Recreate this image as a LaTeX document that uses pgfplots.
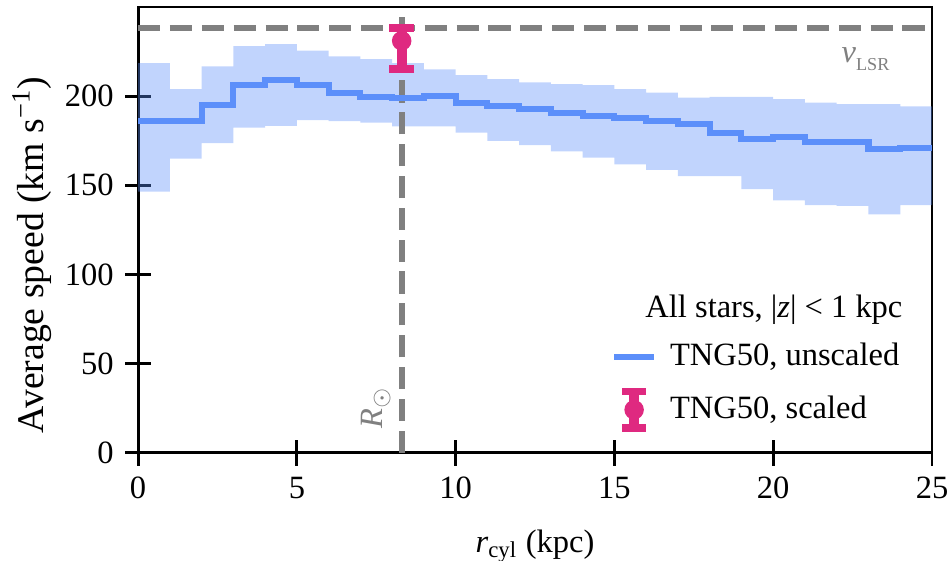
\documentclass[border=0pt]{standalone}
\usepackage{fontspec}
\setmainfont{Liberation Serif}
\usepackage{pgfplots}
\pgfplotsset{compat=1.18}
\usepgfplotslibrary{fillbetween}
\usepackage{pgfplotstable}
\definecolor{tngblue}{RGB}{92,143,250}
\definecolor{tngpink}{RGB}{223,41,128}
\definecolor{refgrey}{RGB}{128,128,128}
\pgfplotstableread{
x mid lo hi
0 186 146.5 218.5
1 186 165 204
2 195 173.6 216.7
3 206.2 182.4 228
4 209 183.3 229.2
5 206.4 186.5 225.5
6 202 186 222.3
7 199.4 185.2 220.8
8 198.7 183 218.5
9 200.2 183 215
10 196.4 179.6 211.8
11 194.6 174.9 209.6
12 192.7 172.5 207.7
13 190.8 169 206.7
14 189 165.5 206.2
15 188 161.8 204
16 186 158.6 202
17 184.3 155.2 199.2
18 179.6 155.2 199.6
19 176.2 147.8 199.6
20 177.1 141.6 198.3
21 174.5 138.9 196.4
22 174.5 138.4 195.5
23 170.2 133.7 195.5
24 171.1 138.9 194.2
25 171.1 138.9 194.2
}\speed
\begin{document}
\begin{tikzpicture}
\begin{axis}[
  name=ax,
  scale only axis,
  width=244.3pt, height=137.2pt,
  xmin=0, xmax=25, ymin=0, ymax=250,
  xtick={0,5,10,15,20,25},
  ytick={0,50,100,150,200},
  axis line style={line width=0.9pt},
  every tick/.style={line width=0.9pt, black},
  tick align=center,
  major tick length=8pt,
  xtick pos=bottom, ytick pos=left,
  /pgf/number format/assume math mode=true,
  tick label style={font=\fontsize{10}{12}\selectfont},
  every axis x label/.style={at={(rel axis cs:0.5,0)}, yshift=-30.8pt, anchor=base},
  every axis y label/.style={at={(rel axis cs:0,0.444)}, xshift=-32.6pt, rotate=90, anchor=center, font=\fontsize{11.6}{14}\selectfont},
  xlabel={\textit{r}\textsubscript{cyl} (kpc)},
  ylabel={Average speed (km s\textsuperscript{−1})},
  legend style={draw=none, fill=none, at={(rel axis cs:0.595,0.255)}, anchor=north west,
    inner sep=0pt, row sep=4pt, column sep=3pt, nodes={inner sep=1pt}, font=\fontsize{10}{12}\selectfont},
  legend cell align=left,
  clip=false,
]
\addplot[refgrey, line width=1.85pt, dash pattern=on 6.8pt off 3pt, forget plot] coordinates {(0,238) (25,238)};
\addplot[refgrey, line width=1.85pt, dash pattern=on 6.8pt off 3pt, forget plot] coordinates {(8.3,0) (8.3,250)};
\addplot[const plot, draw=none, name path=up, forget plot] table[x=x, y=hi] {\speed};
\addplot[const plot, draw=none, name path=lo, forget plot] table[x=x, y=lo] {\speed};
\addplot[fill=tngblue, fill opacity=0.38, draw=none, forget plot] fill between[of=up and lo];
\addplot[const plot, color=tngblue, line width=1.85pt,
  legend image code/.code={\draw[tngblue, line width=1.85pt] (0pt,0pt) -- (12.3pt,0pt);}]
  table[x=x, y=mid] {\speed};
\addlegendentry{TNG50, unscaled}
\addplot[only marks, mark=*, mark size=2.8pt, color=tngpink,
  legend image code/.code={
    \path[draw=none, fill=none] (0pt,-1pt) rectangle (12.3pt,1pt);
    \draw[tngpink, line width=3pt] (6.15pt,-5.6pt) -- (6.15pt,5.6pt);
    \draw[tngpink, line width=2.3pt] (2.45pt,-5.6pt) -- (9.85pt,-5.6pt);
    \draw[tngpink, line width=2.3pt] (2.45pt,5.6pt) -- (9.85pt,5.6pt);
    \fill[tngpink] (6.15pt,0pt) circle (2.8pt);},
  error bars/.cd, y dir=both, y explicit,
  error bar style={line width=3pt, tngpink},
  error mark options={rotate=90, mark size=3.85pt, line width=2.4pt, tngpink},
  ] coordinates {(8.3,231) += (0,7) -= (0,16)};
\addlegendentry{TNG50, scaled}
\node[refgrey, anchor=base east, inner sep=0pt] at (axis cs:23.68,218.6) {\fontsize{10}{12}\selectfont\textit{v}\raisebox{-0.5ex}{\fontsize{5.6}{7}\selectfont LSR}};
\node[refgrey, rotate=90, anchor=base west, font=\fontsize{10}{12}\selectfont] at (axis cs:7.71,7.3) {\textit{R}$_{\odot}$};
\node[anchor=east, font=\fontsize{10}{12}\selectfont, inner sep=0pt] at (axis cs:24.09,80.2) {All stars, |\textit{z}| < 1 kpc};
\end{axis}
\pgfresetboundingbox
\path ([shift={(-42.5pt,-33.2pt)}]ax.south west) rectangle ([shift={(5.85pt,2.15pt)}]ax.north east);
\end{tikzpicture}
\end{document}
